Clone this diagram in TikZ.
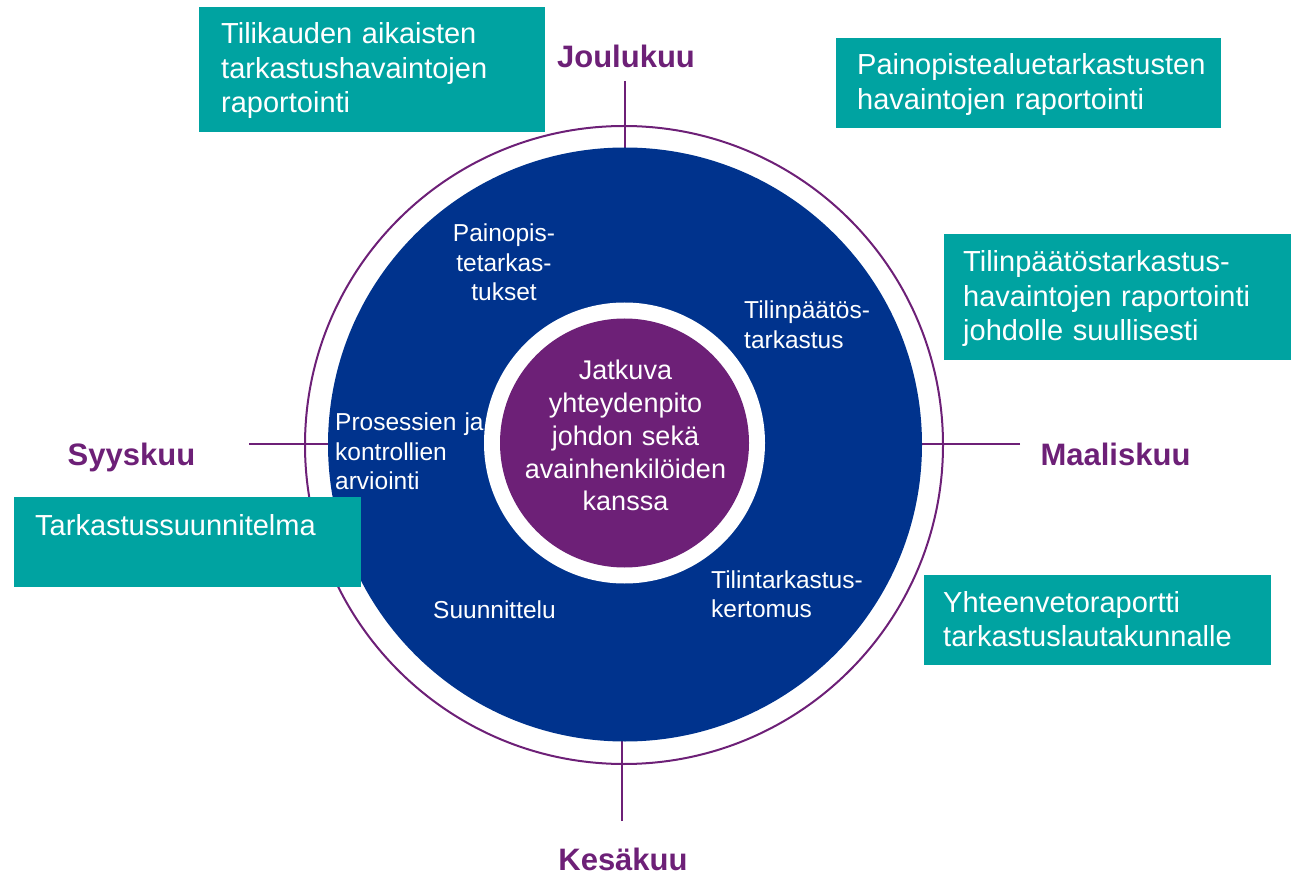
\documentclass[tikz,border=0pt]{standalone}
\usepackage{fontspec}
\setmainfont{Liberation Sans}
\definecolor{kblue}{RGB}{0,51,141}
\definecolor{kpurple}{RGB}{109,32,119}
\definecolor{kteal}{RGB}{0,163,161}
\tikzset{
  tealbox/.style={fill=kteal, draw=none, inner sep=0pt, anchor=north west},
  boxtext/.style={text=white, inner sep=0pt, anchor=base west, text width=340pt, align=left,
    font=\fontsize{29}{34.5}\selectfont},
  month/.style={text=kpurple, inner sep=0pt, anchor=base, font=\fontsize{31}{36}\selectfont\bfseries},
  ringtext/.style={text=white, inner sep=0pt, font=\fontsize{24.5}{29.5}\selectfont},
  tick/.style={draw=kpurple, line width=2pt},
}
\begin{document}
\begin{tikzpicture}[x=1pt,y=-1pt]
\useasboundingbox (0,0) rectangle (1291,874);
% outer thin circle
\node[circle, draw=kpurple, line width=2pt, minimum size=638pt, inner sep=0pt] (outer) at (624,445) {};
% month ticks
\coordinate (jtop) at (625,81);
\coordinate (sleft) at (249,444);
\coordinate (mright) at (1020,444);
\coordinate (kbot) at (622,821);
\coordinate (jin) at (625,150);
\coordinate (sin) at (332,444);
\coordinate (min) at (919,444);
\coordinate (kin) at (622,738);
\draw[tick] (jtop) -- (jin);
\draw[tick] (sleft) -- (sin);
\draw[tick] (mright) -- (min);
\draw[tick] (kbot) -- (kin);
% blue disk
\node[circle, fill=kblue, minimum size=594pt, inner sep=0pt] (blue) at (625,444.5) {};
% white ring and purple core
\node[circle, fill=white, minimum size=281pt, inner sep=0pt] (ring) at (624.5,443) {};
\node[circle, fill=kpurple, minimum size=249pt, inner sep=0pt] (core) at (624.5,443) {};
\node[text=white, inner sep=0pt, anchor=base, text width=250pt, align=center,
  font=\fontsize{27}{32.7}\selectfont] (coretext) at (625.5,380)
  {Jatkuva\\yhteydenpito\\johdon sekä\\avainhenkilöiden\\kanssa};
% ring labels
\node[ringtext, anchor=base, text width=160pt, align=center] (l1) at (504,241.6) {Painopis-\\tetarkas-\\tukset};
\node[ringtext, anchor=base west, text width=160pt, align=left] (l2) at (744,319) {Tilinpäätös-\\tarkastus};
\node[ringtext, anchor=base west, text width=170pt, align=left] (l3) at (335,431) {Prosessien ja\\kontrollien\\arviointi};
\node[ringtext, anchor=base west, text width=160pt, align=left] (l4) at (433,618) {Suunnittelu};
\node[ringtext, anchor=base west, text width=190pt, align=left] (l5) at (711,588) {Tilintarkastus-\\kertomus};
% months
\node[month] (joulu) at (626,68) {Joulukuu};
\node[month] (syys) at (131.5,465) {Syyskuu};
\node[month] (maalis) at (1115.5,466) {Maaliskuu};
\node[month] (kesa) at (623,870) {Kesäkuu};
% teal boxes
\node[tealbox, minimum width=346pt, minimum height=124.5pt] (b1) at (199,7) {};
\node[boxtext] (t1) at (221,44) {Tilikauden aikaisten\\tarkastushavaintojen\\raportointi};
\node[tealbox, minimum width=385pt, minimum height=90pt] (b2) at (836,38) {};
\node[boxtext, text width=380pt] (t2) at (857,75) {Painopistealuetarkastusten\\havaintojen raportointi};
\node[tealbox, minimum width=347pt, minimum height=126pt] (b3) at (944,234) {};
\node[boxtext] (t3) at (963,272) {Tilinpäätöstarkastus-\\havaintojen raportointi\\johdolle suullisesti};
\node[tealbox, minimum width=347pt, minimum height=90pt] (b4) at (14,497) {};
\node[boxtext] (t4) at (35,535) {Tarkastussuunnitelma};
\node[tealbox, minimum width=347pt, minimum height=90pt] (b5) at (924,575) {};
\node[boxtext] (t5) at (943,612) {Yhteenvetoraportti\\tarkastuslautakunnalle};
\end{tikzpicture}
\end{document}
